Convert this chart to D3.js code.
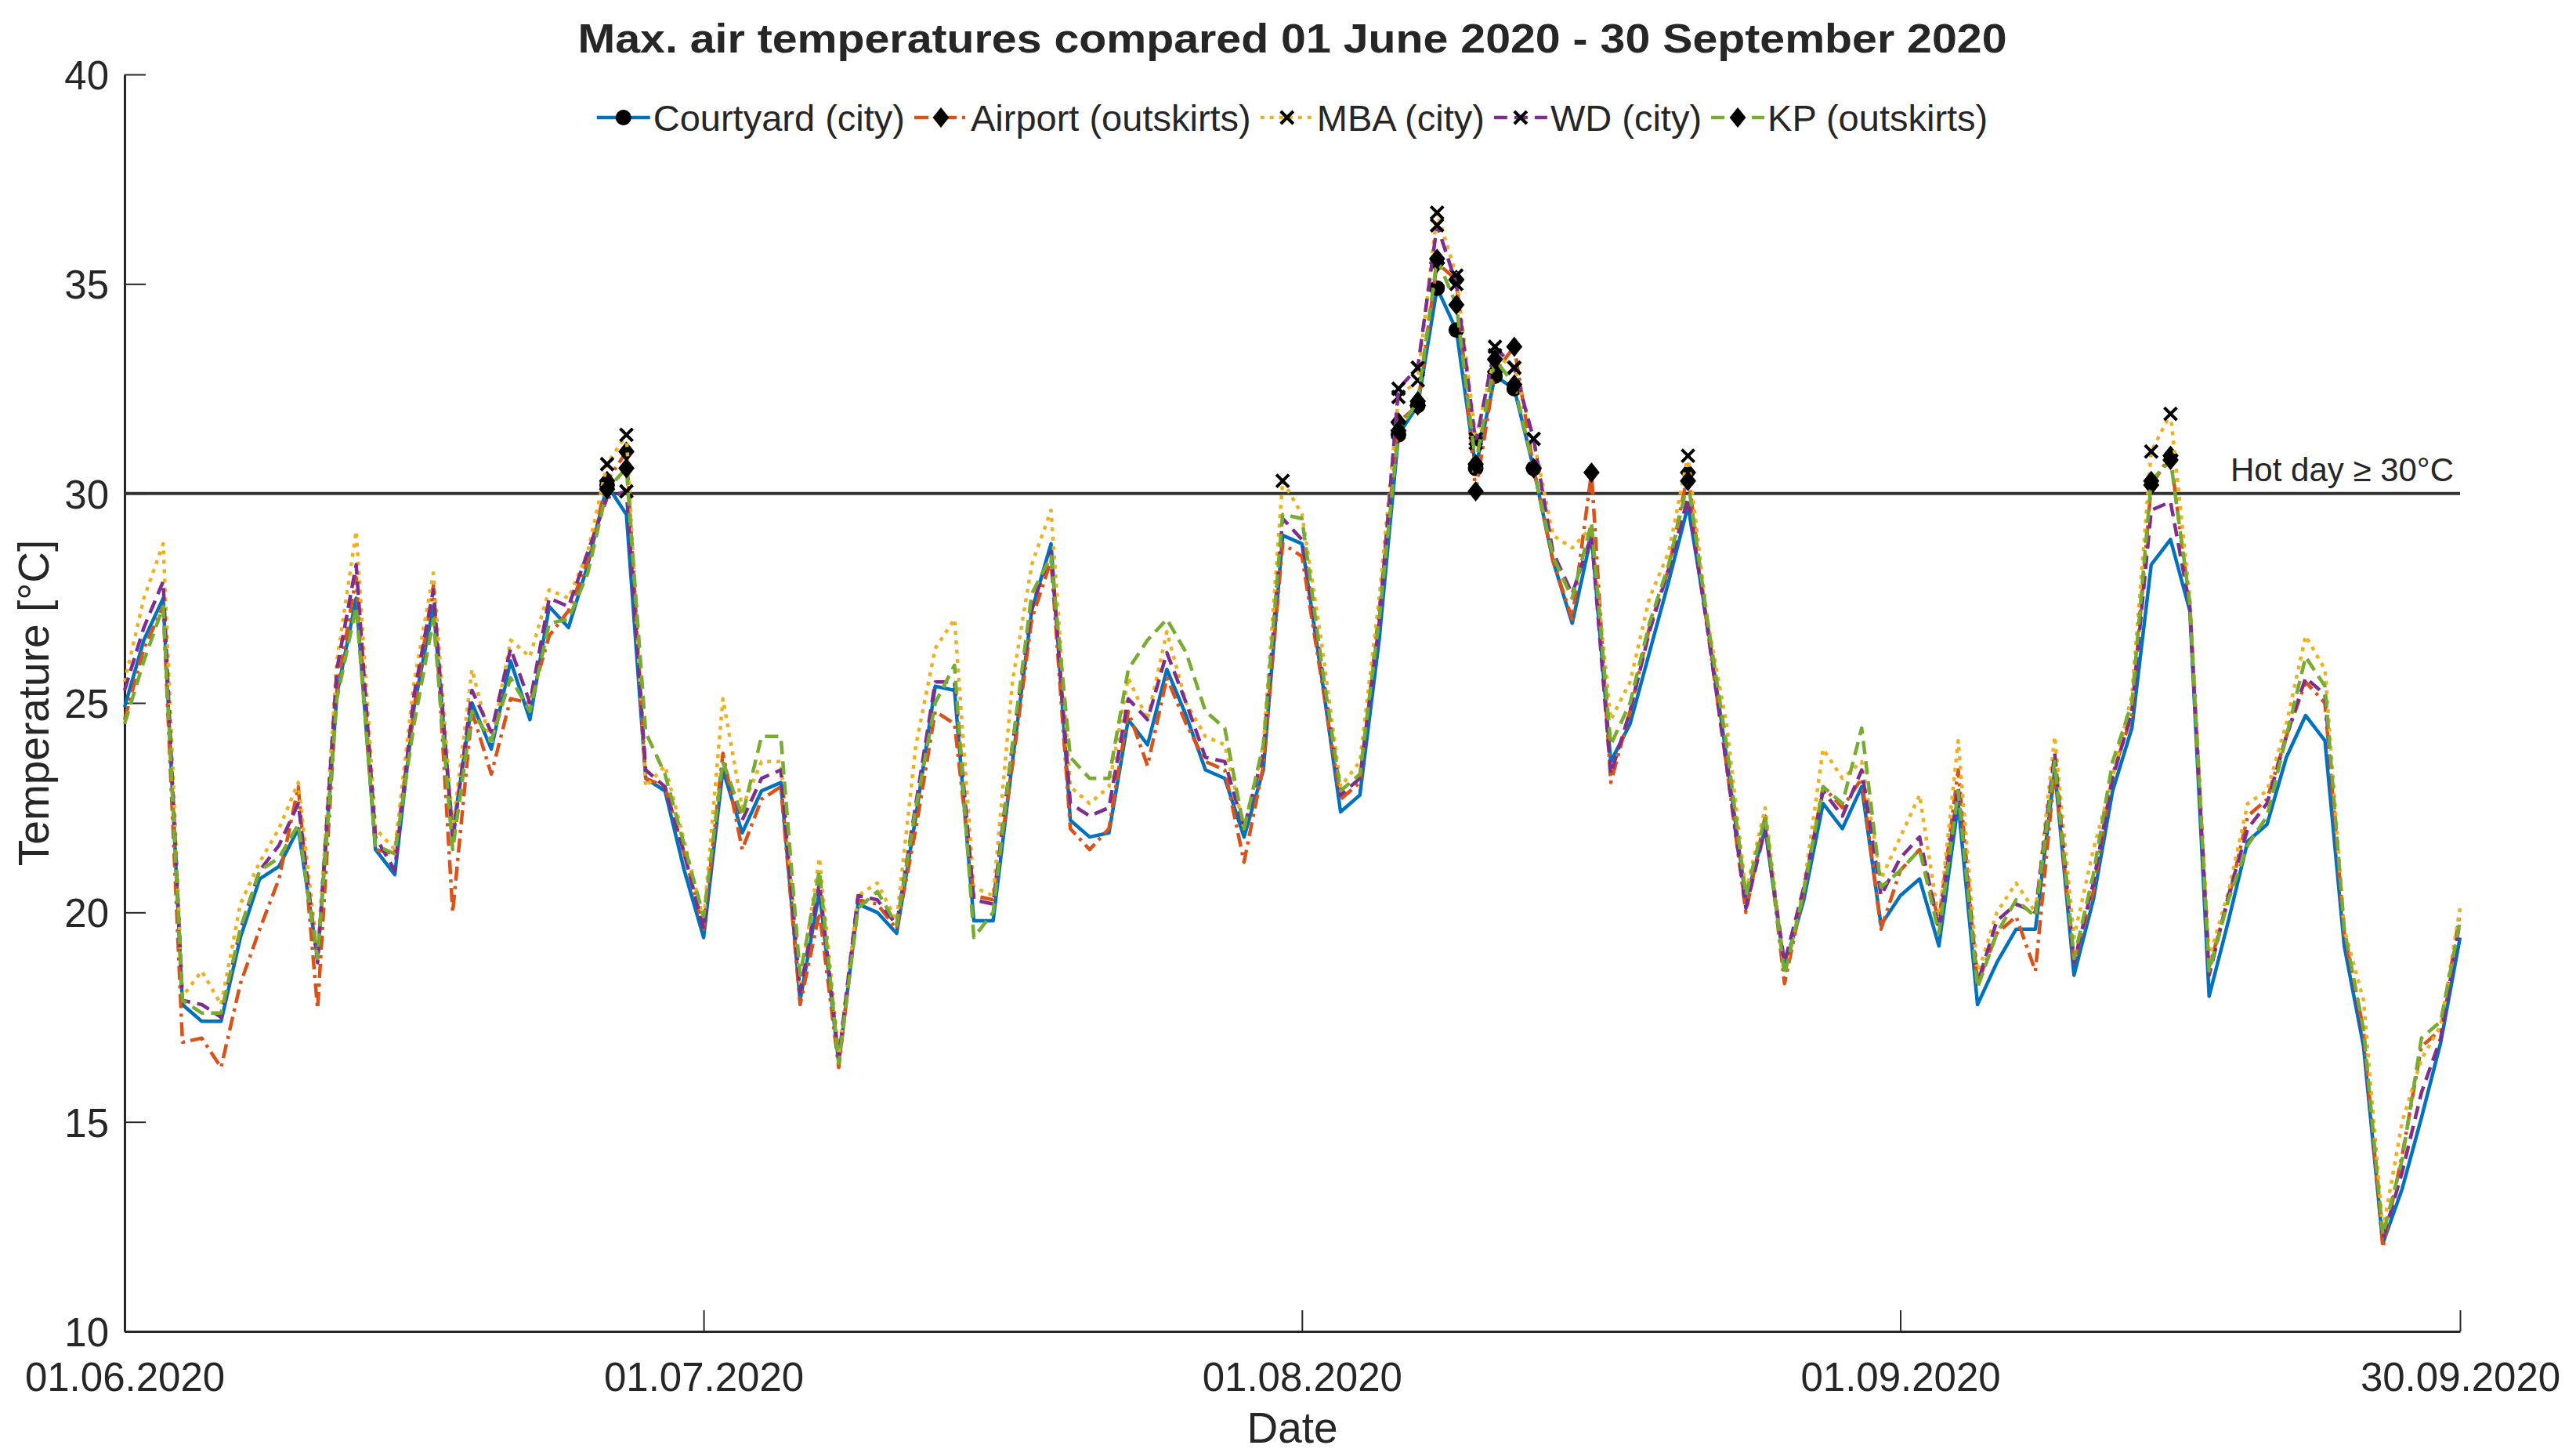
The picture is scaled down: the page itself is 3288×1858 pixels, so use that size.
<!DOCTYPE html>
<html>
<head>
<meta charset="utf-8">
<script src="https://cdn.jsdelivr.net/npm/d3@7"></script>
<style>
  body { margin: 0; background: #fff; }
  text { font-family: "Liberation Sans", Arial, sans-serif; fill: #262626; }
</style>
</head>
<body>
<div id="chart"></div>
<script>
// chart size (matches the page)
var width = 3288, height = 1858;
var margin = {top: 95, right: 148, bottom: 159, left: 159};

// days 01.06.2020 .. 30.09.2020
var days = d3.timeDay.range(new Date(2020, 5, 1), new Date(2020, 9, 1));
var xTickDates = [new Date(2020, 5, 1), new Date(2020, 6, 1), new Date(2020, 7, 1), new Date(2020, 8, 1), new Date(2020, 8, 30)];
var yTicks = [10, 15, 20, 25, 30, 35, 40];
var hotDay = 30;

var seriesNames = ["Courtyard (city)", "Airport (outskirts)", "MBA (city)", "WD (city)", "KP (outskirts)"];

var courtyard = [24.9, 26.5, 27.5, 17.8, 17.4, 17.4, 19.4, 20.8, 21.1, 22.0,
  18.9, 25.2, 27.5, 21.5, 20.9, 24.9, 27.3, 21.9, 25.0, 23.9,
  26.0, 24.6, 27.3, 26.8, 28.3, 30.2, 29.5, 23.2, 22.9, 21.0,
  19.4, 23.4, 21.9, 22.9, 23.1, 17.9, 20.5, 16.4, 20.2, 20.0,
  19.5, 22.3, 25.4, 25.3, 19.8, 19.8, 23.6, 27.2, 28.8, 22.2,
  21.8, 21.9, 24.6, 24.0, 25.8, 24.7, 23.4, 23.2, 21.8, 23.4,
  29.0, 28.8, 25.7, 22.4, 22.8, 26.5, 31.4, 32.1, 34.9, 33.9,
  30.6, 32.8, 32.5, 30.6, 28.4, 26.9, 29.0, 23.6, 24.5, 26.2,
  27.9, 29.7, 26.9, 23.7, 20.3, 22.0, 18.7, 20.3, 22.6, 22.0,
  23.0, 19.7, 20.4, 20.8, 19.2, 22.6, 17.8, 18.8, 19.6, 19.6,
  23.4, 18.5, 20.3, 22.9, 24.4, 28.3, 28.9, 27.2, 18.0, 19.8,
  21.7, 22.1, 23.7, 24.7, 24.1, 19.2, 16.8, 12.1, 13.4, 15.1,
  16.9, 19.4];

var airport = [24.6, 26.3, 27.3, 16.9, 17.0, 16.3, 18.3, 19.6, 20.8, 23.0,
  17.7, 25.3, 28.0, 21.5, 21.4, 24.9, 27.8, 20.0, 24.8, 23.3,
  25.1, 25.0, 26.6, 27.2, 28.4, 30.3, 31.0, 23.2, 23.0, 21.4,
  19.6, 23.8, 21.5, 22.7, 23.0, 17.8, 20.0, 16.3, 20.3, 20.2,
  19.6, 22.0, 24.8, 24.5, 20.4, 20.3, 23.5, 27.0, 28.4, 22.0,
  21.5, 22.0, 24.8, 23.5, 25.6, 24.5, 23.6, 23.4, 21.2, 23.5,
  28.8, 28.5, 25.6, 22.7, 23.1, 27.2, 31.7, 32.1, 35.5, 35.1,
  30.05, 32.9, 33.5, 30.6, 28.4, 27.0, 30.5, 23.1, 24.8, 26.8,
  28.2, 30.5, 26.8, 23.5, 20.0, 22.3, 18.3, 20.5, 23.0, 22.5,
  23.2, 19.6, 21.0, 21.5, 19.8, 23.4, 18.3, 19.5, 19.9, 18.6,
  23.4, 18.8, 20.5, 23.3, 24.7, 30.2, 30.9, 27.3, 18.7, 20.3,
  22.3, 22.7, 24.2, 25.5, 25.0, 19.5, 17.2, 12.0, 14.2, 16.8,
  17.2, 20.0];

var mba = [25.5, 27.5, 28.8, 18.0, 18.6, 17.8, 20.2, 21.2, 22.0, 23.1,
  19.0, 26.0, 29.1, 22.0, 21.5, 25.5, 28.1, 22.0, 25.8, 24.0,
  26.5, 26.1, 27.7, 27.5, 28.6, 30.7, 31.4, 23.0, 23.5, 21.7,
  19.8, 25.1, 22.5, 23.6, 23.6, 18.3, 21.3, 16.6, 20.4, 20.7,
  19.8, 24.0, 26.3, 27.0, 20.6, 20.4, 25.5, 28.3, 29.6, 23.0,
  22.6, 23.0, 25.6, 24.6, 26.7, 25.0, 24.2, 24.0, 22.0, 24.0,
  30.3, 29.5, 26.5, 23.0, 23.6, 27.5, 32.3, 32.7, 36.7, 35.2,
  31.3, 33.3, 33.0, 31.3, 29.0, 28.7, 29.2, 24.6, 25.5, 27.5,
  28.6, 30.9, 27.0, 24.5, 20.5, 22.5, 18.6, 20.6, 23.9, 23.2,
  23.6, 20.8, 21.8, 22.8, 19.8, 24.1, 18.5, 20.0, 20.7, 20.0,
  24.2, 19.4, 21.5, 23.2, 25.2, 31.0, 31.9, 27.5, 18.9, 20.5,
  22.6, 22.9, 24.5, 26.6, 25.8, 19.6, 17.9, 12.4, 15.0, 16.5,
  17.3, 20.1];

var wd = [25.3, 26.8, 27.9, 17.9, 17.8, 17.5, 19.6, 21.0, 21.6, 22.6,
  18.8, 25.8, 28.3, 21.8, 21.0, 25.2, 27.7, 21.7, 25.3, 24.3,
  26.3, 25.0, 27.5, 27.3, 28.6, 29.9, 30.05, 23.4, 23.0, 21.4,
  19.6, 23.6, 22.2, 23.2, 23.4, 18.1, 20.7, 16.5, 20.4, 20.3,
  19.7, 22.6, 25.5, 25.5, 20.3, 20.2, 24.0, 27.3, 28.6, 22.6,
  22.3, 22.5, 25.1, 24.6, 26.2, 25.0, 23.7, 23.6, 22.0, 23.8,
  29.4, 28.9, 25.9, 22.8, 23.2, 26.9, 32.5, 33.0, 36.4, 35.0,
  31.2, 33.5, 33.0, 31.3, 28.6, 27.6, 29.0, 23.3, 24.8, 26.7,
  28.2, 29.9, 26.8, 23.5, 20.1, 22.0, 18.8, 20.6, 22.9, 22.3,
  23.4, 20.4, 21.3, 21.8, 19.6, 23.0, 18.3, 19.8, 20.2, 20.0,
  23.8, 18.8, 20.7, 23.2, 24.8, 29.6, 29.8, 27.3, 18.5, 20.4,
  22.0, 22.6, 24.2, 25.6, 25.2, 19.5, 17.0, 12.2, 13.8, 15.7,
  17.0, 19.8];

var kp = [24.5, 26.0, 27.3, 17.9, 17.6, 17.6, 19.6, 21.0, 21.3, 22.1,
  18.9, 25.1, 27.3, 21.6, 21.4, 24.5, 27.0, 21.5, 24.8, 24.1,
  25.6, 24.8, 26.9, 27.0, 28.1, 30.1, 30.6, 24.3, 23.3, 21.6,
  19.9, 23.6, 22.3, 24.2, 24.2, 18.5, 21.0, 16.4, 20.1, 20.5,
  19.7, 22.5, 25.0, 25.9, 19.4, 20.0, 24.0, 27.6, 28.5, 23.7,
  23.2, 23.2, 25.8, 26.5, 27.0, 26.2, 24.8, 24.4, 22.0, 24.0,
  29.5, 29.4, 26.0, 22.9, 23.3, 27.0, 31.5, 32.2, 35.6, 34.5,
  30.7, 33.2, 32.6, 30.6, 28.5, 27.5, 29.3, 24.0, 25.0, 26.9,
  28.3, 30.3, 27.0, 24.0, 20.4, 22.3, 18.5, 20.5, 23.0, 22.6,
  24.4, 20.6, 21.0, 21.5, 19.5, 22.9, 18.2, 19.5, 20.3, 19.9,
  23.6, 18.9, 20.9, 23.6, 25.0, 30.3, 30.8, 27.4, 18.6, 20.3,
  21.6, 22.3, 24.2, 26.1, 25.4, 19.6, 17.2, 12.3, 14.1, 17.0,
  17.4, 19.8];

var seriesValues = [courtyard, airport, mba, wd, kp];
var colors = ["#0072BD", "#D95319", "#EDB120", "#7E2F8E", "#77AC30"];
var dashes = [null, "18,7,4,7", "5,7", "17,9", "17,9"];
var markers = ["circle", "diamond", "cross", "cross", "diamond"];

var svg = d3.select("#chart").append("svg")
    .attr("width", width)
    .attr("height", height);

var x = d3.scaleTime()
    .domain([days[0], days[days.length - 1]])
    .range([margin.left, width - margin.right]);

var y = d3.scaleLinear()
    .domain([10, 40])
    .range([height - margin.bottom, margin.top]);

// axes, MATLAB style: ticks pointing inward
var xAxis = d3.axisBottom(x)
    .tickValues(xTickDates)
    .tickFormat(d3.timeFormat("%d.%m.%Y"))
    .tickSizeInner(-27).tickSizeOuter(0).tickPadding(40);

var yAxis = d3.axisLeft(y)
    .tickValues(yTicks)
    .tickSizeInner(-27).tickSizeOuter(0).tickPadding(20);

var gx = svg.append("g")
    .attr("transform", "translate(0," + (height - margin.bottom) + ")")
    .call(xAxis);
var gy = svg.append("g")
    .attr("transform", "translate(" + margin.left + ",0)")
    .call(yAxis);

[gx, gy].forEach(function(g){
  g.select(".domain").attr("stroke", "#262626").attr("stroke-width", 3);
  g.selectAll(".tick line").attr("stroke", "#262626").attr("stroke-width", 2);
  g.selectAll(".tick text")
    .attr("font-size", "51px")
    .attr("font-family", "'Liberation Sans', Arial, sans-serif")
    .attr("fill", "#262626");
});
gx.selectAll(".tick text").attr("dy", "0.71em");
gy.selectAll(".tick text").attr("dy", "0.36em");

// hot day threshold
svg.append("line")
    .attr("x1", x.range()[0]).attr("x2", x.range()[1])
    .attr("y1", y(hotDay)).attr("y2", y(hotDay))
    .attr("stroke", "#333")
    .attr("stroke-width", 4);

svg.append("text")
    .attr("x", x.range()[1] - 8)
    .attr("y", y(hotDay) - 16)
    .attr("text-anchor", "end")
    .attr("font-size", "42px")
    .text("Hot day \u2265 30\u00b0C");

var line = d3.line()
    .x(function(d, i){ return x(days[i]); })
    .y(function(d){ return y(d); });

function drawMarker(g, type, cx, cy) {
  if (type == "circle") {
    g.append("circle").attr("cx", cx).attr("cy", cy).attr("r", 10)
      .attr("fill", "#000");
  } else if (type == "diamond") {
    var s = 13;
    g.append("path")
      .attr("d", "M" + cx + "," + (cy - s) + "L" + (cx + s * 0.8) + "," + cy +
                 "L" + cx + "," + (cy + s) + "L" + (cx - s * 0.8) + "," + cy + "Z")
      .attr("fill", "#000");
  } else {
    var h = 8;
    g.append("path")
      .attr("d", "M" + (cx - h) + "," + (cy - h) + "L" + (cx + h) + "," + (cy + h) +
                 "M" + (cx - h) + "," + (cy + h) + "L" + (cx + h) + "," + (cy - h))
      .attr("stroke", "#000").attr("stroke-width", 4).attr("fill", "none");
  }
}

seriesValues.forEach(function(vals, k){
  var g = svg.append("g").attr("class", "series");
  g.append("path")
    .datum(vals)
    .attr("d", line)
    .attr("fill", "none")
    .attr("stroke", colors[k])
    .attr("stroke-width", 4.5)
    .attr("stroke-linejoin", "round")
    .attr("stroke-dasharray", dashes[k]);
  vals.forEach(function(v, i){
    if (v >= hotDay) drawMarker(g, markers[k], x(days[i]), y(v));
  });
});

// title
svg.append("text")
    .attr("x", (x.range()[0] + x.range()[1]) / 2)
    .attr("y", 67)
    .attr("text-anchor", "middle")
    .attr("font-size", "52px")
    .attr("font-weight", "bold")
    .attr("fill", "#000")
    .attr("textLength", 1824)
    .attr("lengthAdjust", "spacingAndGlyphs")
    .text("Max. air temperatures compared 01 June 2020 - 30 September 2020");

// legend
var legend = svg.append("g");
var lx = 0, legY = 150;
seriesNames.forEach(function(name, k){
  var item = legend.append("g").attr("transform", "translate(" + lx + ",0)");
  item.append("line")
    .attr("x1", 0).attr("x2", 68).attr("y1", legY).attr("y2", legY)
    .attr("stroke", colors[k]).attr("stroke-width", 4.5)
    .attr("stroke-dasharray", dashes[k]);
  drawMarker(item, markers[k], 34, legY);
  var t = item.append("text")
    .attr("x", 72).attr("y", legY + 17)
    .attr("font-size", "47px")
    .attr("fill", "#000")
    .text(name);
  lx += 72 + t.node().getComputedTextLength() + 12;
});
legend.attr("transform", "translate(" + ((x.range()[0] + x.range()[1]) / 2 - (lx - 12) / 2) + ",0)");

// axis titles
svg.append("text")
    .attr("x", (x.range()[0] + x.range()[1]) / 2)
    .attr("y", 1841)
    .attr("text-anchor", "middle")
    .attr("font-size", "55px")
    .text("Date");

svg.append("text")
    .attr("transform", "translate(62," + ((y.range()[0] + y.range()[1]) / 2) + ") rotate(-90)")
    .attr("text-anchor", "middle")
    .attr("font-size", "55px")
    .text("Temperature [\u00b0C]");
</script>
</body>
</html>
